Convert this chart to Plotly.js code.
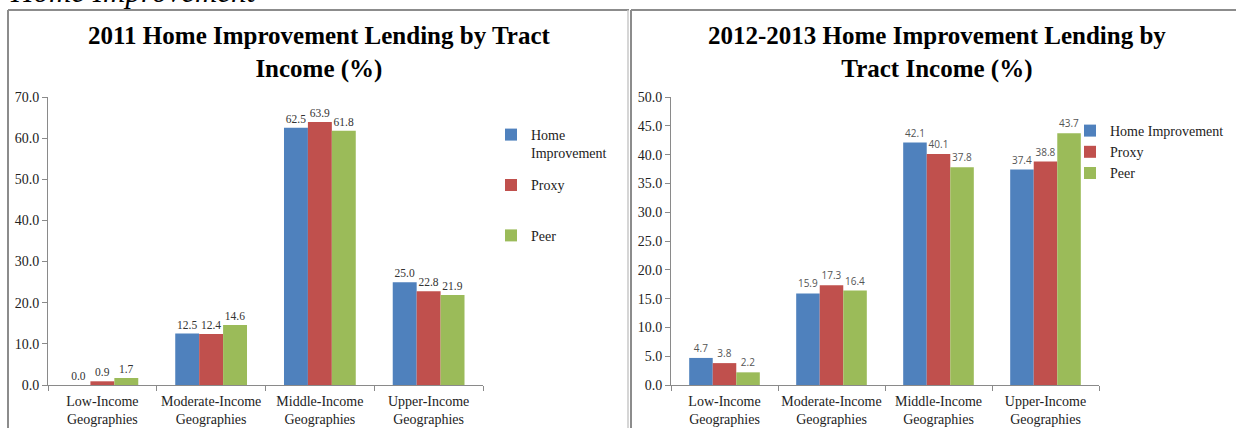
<!DOCTYPE html>
<html>
<head>
<meta charset="utf-8">
<script src="https://cdn.plot.ly/plotly-3.0.1.min.js"></script>
<style>
  html, body { margin: 0; padding: 0; background: #fff; }
  #chart { width: 1236px; height: 428px; }
</style>
</head>
<body>
<div id="chart"></div>
<script>
// ---- Data ----
const categories = ['Low-Income<br>Geographies', 'Moderate-Income<br>Geographies', 'Middle-Income<br>Geographies', 'Upper-Income<br>Geographies'];
const seriesNames2011 = ['Home<br>Improvement', 'Proxy<br>&nbsp;', 'Peer<br>&nbsp;'];
const seriesNames1213 = ['Home Improvement', 'Proxy', 'Peer'];
const homeImp2011 = [0.0, 12.5, 62.5, 25.0];
const proxy2011   = [0.9, 12.4, 63.9, 22.8];
const peer2011    = [1.7, 14.6, 61.8, 21.9];
const homeImp1213 = [4.7, 15.9, 42.1, 37.4];
const proxy1213   = [3.8, 17.3, 40.1, 38.8];
const peer1213    = [2.2, 16.4, 37.8, 43.7];
const yTicks2011 = [0, 10, 20, 30, 40, 50, 60, 70];
const yTicks1213 = [0, 5, 10, 15, 20, 25, 30, 35, 40, 45, 50];
const title2011 = '<b>2011 Home Improvement Lending by Tract<br>Income (%)</b>';
const title1213 = '<b>2012-2013 Home Improvement Lending by<br>Tract Income (%)</b>';
const pageHeading = '<i>Home Improvement</i>';

const colors = ['#4F81BD', '#C0504D', '#9BBB59'];
const W = 1236, H = 428;
const px = v => v / W;
const py = v => 1 - v / H;

const serif = 'Liberation Serif, Times New Roman, serif';
const sans = 'Open Sans, Liberation Sans, sans-serif';

function mkTrace(name, vals, i, xa, ya, legend, labelFont, group) {
  return {
    type: 'bar', name: name, x: categories, y: vals,
    xaxis: xa, yaxis: ya, legend: legend, legendgroup: group,
    marker: { color: colors[i] },
    texttemplate: '%{y:.1f}', textposition: 'outside', cliponaxis: false,
    textfont: labelFont, hoverinfo: 'skip'
  };
}
const lf1 = { family: serif, size: 11.5, color: '#333' };
const lf2 = { family: sans, size: 10, color: '#555' };
const data = [
  mkTrace(seriesNames2011[0], homeImp2011, 0, 'x', 'y', 'legend', lf1, 'a'),
  mkTrace(seriesNames2011[1], proxy2011, 1, 'x', 'y', 'legend', lf1, 'b'),
  mkTrace(seriesNames2011[2], peer2011, 2, 'x', 'y', 'legend', lf1, 'c'),
  mkTrace(seriesNames1213[0], homeImp1213, 0, 'x2', 'y2', 'legend2', lf2, 'd'),
  mkTrace(seriesNames1213[1], proxy1213, 1, 'x2', 'y2', 'legend2', lf2, 'd'),
  mkTrace(seriesNames1213[2], peer1213, 2, 'x2', 'y2', 'legend2', lf2, 'd')
];

const xaxBase = {
  type: 'category', showline: true, linecolor: '#8a8a8a', linewidth: 1,
  ticks: 'outside', tickson: 'boundaries', ticklen: 5, tickcolor: '#8a8a8a',
  ticklabelstandoff: 3, tickangle: 0,
  tickfont: { family: serif, size: 14, color: '#222' }, showgrid: false, zeroline: false, fixedrange: true
};
const yaxBase = {
  showline: true, linecolor: '#8a8a8a', linewidth: 1, ticks: 'outside', ticklen: 5, tickcolor: '#8a8a8a',
  tickfont: { family: serif, size: 14, color: '#222' }, showgrid: false, zeroline: false,
  tickformat: '.1f', fixedrange: true, domain: [py(385), py(97)]
};

const lineStyle = { color: '#8c8c8c', width: 2 };
const layout = {
  width: W, height: H, margin: { l: 0, r: 0, t: 0, b: 0 },
  paper_bgcolor: '#fff', plot_bgcolor: '#fff',
  barmode: 'group', bargap: 0.34, bargroupgap: 0,
  showlegend: true,
  xaxis: Object.assign({}, xaxBase, { domain: [px(48), px(483)], anchor: 'y' }),
  yaxis: Object.assign({}, yaxBase, { range: [0, 70], tickvals: yTicks2011, anchor: 'x' }),
  xaxis2: Object.assign({}, xaxBase, { domain: [px(671), px(1099)], anchor: 'y2' }),
  yaxis2: Object.assign({}, yaxBase, { range: [0, 50], tickvals: yTicks1213, anchor: 'x2' }),
  legend: {
    x: px(491), y: py(119), xanchor: 'left', yanchor: 'top', valign: 'top',
    font: { family: serif, size: 14, color: '#222' }, bgcolor: 'rgba(0,0,0,0)',
    tracegroupgap: 11, traceorder: 'grouped'
  },
  legend2: {
    x: px(1070), y: py(115), xanchor: 'left', yanchor: 'top',
    font: { family: serif, size: 14, color: '#222' }, bgcolor: 'rgba(0,0,0,0)',
    tracegroupgap: 0, traceorder: 'normal'
  },
  annotations: [
    { xref: 'paper', yref: 'paper', x: px(319), y: py(52), text: title2011, showarrow: false,
      xanchor: 'center', yanchor: 'middle', font: { family: serif, size: 25, color: '#000' } },
    { xref: 'paper', yref: 'paper', x: px(937), y: py(52), text: title1213, showarrow: false,
      xanchor: 'center', yanchor: 'middle', font: { family: serif, size: 25, color: '#000' } },
    { xref: 'paper', yref: 'paper', x: px(8), y: py(11), text: pageHeading, showarrow: false,
      xanchor: 'left', yanchor: 'bottom', font: { family: serif, size: 31, color: '#000' } }
  ],
  shapes: [
    { type: 'line', xref: 'paper', yref: 'paper', x0: px(8), x1: px(629), y0: py(10), y1: py(10), line: lineStyle },
    { type: 'line', xref: 'paper', yref: 'paper', x0: px(8), x1: px(8), y0: py(10), y1: 0, line: lineStyle },
    { type: 'line', xref: 'paper', yref: 'paper', x0: px(628), x1: px(628), y0: py(10), y1: 0, line: { color: '#c8c8c8', width: 1.5 } },
    { type: 'line', xref: 'paper', yref: 'paper', x0: px(631), x1: 1, y0: py(10), y1: py(10), line: lineStyle },
    { type: 'line', xref: 'paper', yref: 'paper', x0: px(631), x1: px(631), y0: py(10), y1: 0, line: lineStyle }
  ]
};

Plotly.newPlot('chart', data, layout, { displayModeBar: false, staticPlot: true });
</script>
</body>
</html>
